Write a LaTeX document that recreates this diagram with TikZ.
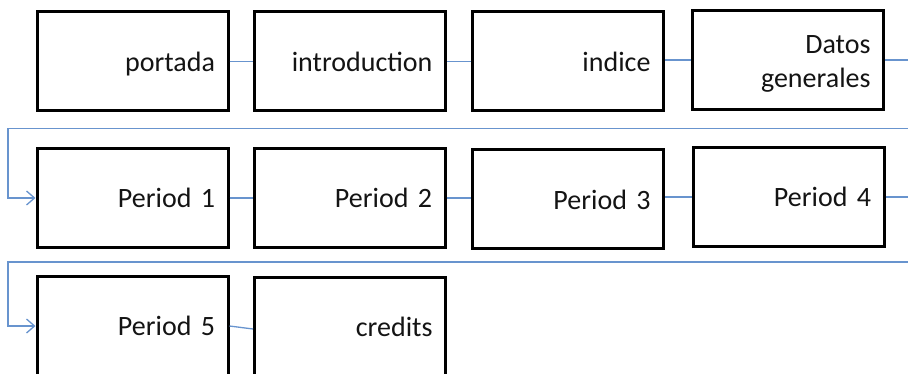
\documentclass[tikz,border=0pt]{standalone}
\usepackage{fontspec}
\setmainfont{Carlito}[WordSpace=0.7]
\usetikzlibrary{arrows.meta}
\definecolor{flow}{RGB}{104,148,206}
\definecolor{ink}{RGB}{20,20,20}
\begin{document}
\begin{tikzpicture}[x=1pt,y=-1pt,
  stepbox/.style={draw=black, line width=3pt, fill=white,
    minimum width=191pt, minimum height=99pt, inner sep=0pt,
    text width=165pt, align=right, text=ink, text depth=0pt,
    font=\fontsize{28}{34}\selectfont},
  link/.style={draw=flow, line width=1.3pt},
  arr/.style={link, -{Straight Barb[length=8pt,width=14pt,line width=1.3pt]}}]
\useasboundingbox (0,0) rectangle (908,374);
\clip (0,0) rectangle (908,374);

% first row
\node[stepbox] (portada) at (132.5,61.5) {portada};
\node[stepbox] (intro) at (350,61.5) {introduction};
\node[stepbox] (indice) at (568,61.5) {indice};
\node[stepbox, text depth=30pt] (datos) at (788,60) {Datos\\generales};

% second row
\node[stepbox] (p1) at (132.5,198) {Period 1};
\node[stepbox] (p2) at (349.5,198) {Period 2};
\node[stepbox] (p3) at (568,199.5) {Period 3};
\node[stepbox] (p4) at (788.5,197) {Period 4};

% third row
\node[stepbox] (p5) at (132.5,326) {Period 5};
\node[stepbox] (credits) at (350,327) {credits};

% wrap-around turning points
\coordinate (r1) at (930,128.5);
\coordinate (l1) at (8,128.5);
\coordinate (r2) at (930,262);
\coordinate (l2) at (8,262);

% connectors along each row
\draw[link] (portada.east) -- (intro.west);
\draw[link] (intro.east) -- (indice.west);
\draw[link] (indice.east |- datos.west) -- (datos.west);
\draw[link] (p1.east) -- (p2.west);
\draw[link] (p2.east) -- (p3.west |- p2.east);
\draw[link] (p3.east |- p4.west) -- (p4.west);
\draw[link] (p5.east) -- ([yshift=-2pt]credits.west);

% connectors wrapping to the next row
\draw[arr] (datos.east) -| (r1) -- (l1) |- (p1.west);
\draw[arr] (p4.east) -| (r2) -- (l2) |- (p5.west);
\end{tikzpicture}
\end{document}
